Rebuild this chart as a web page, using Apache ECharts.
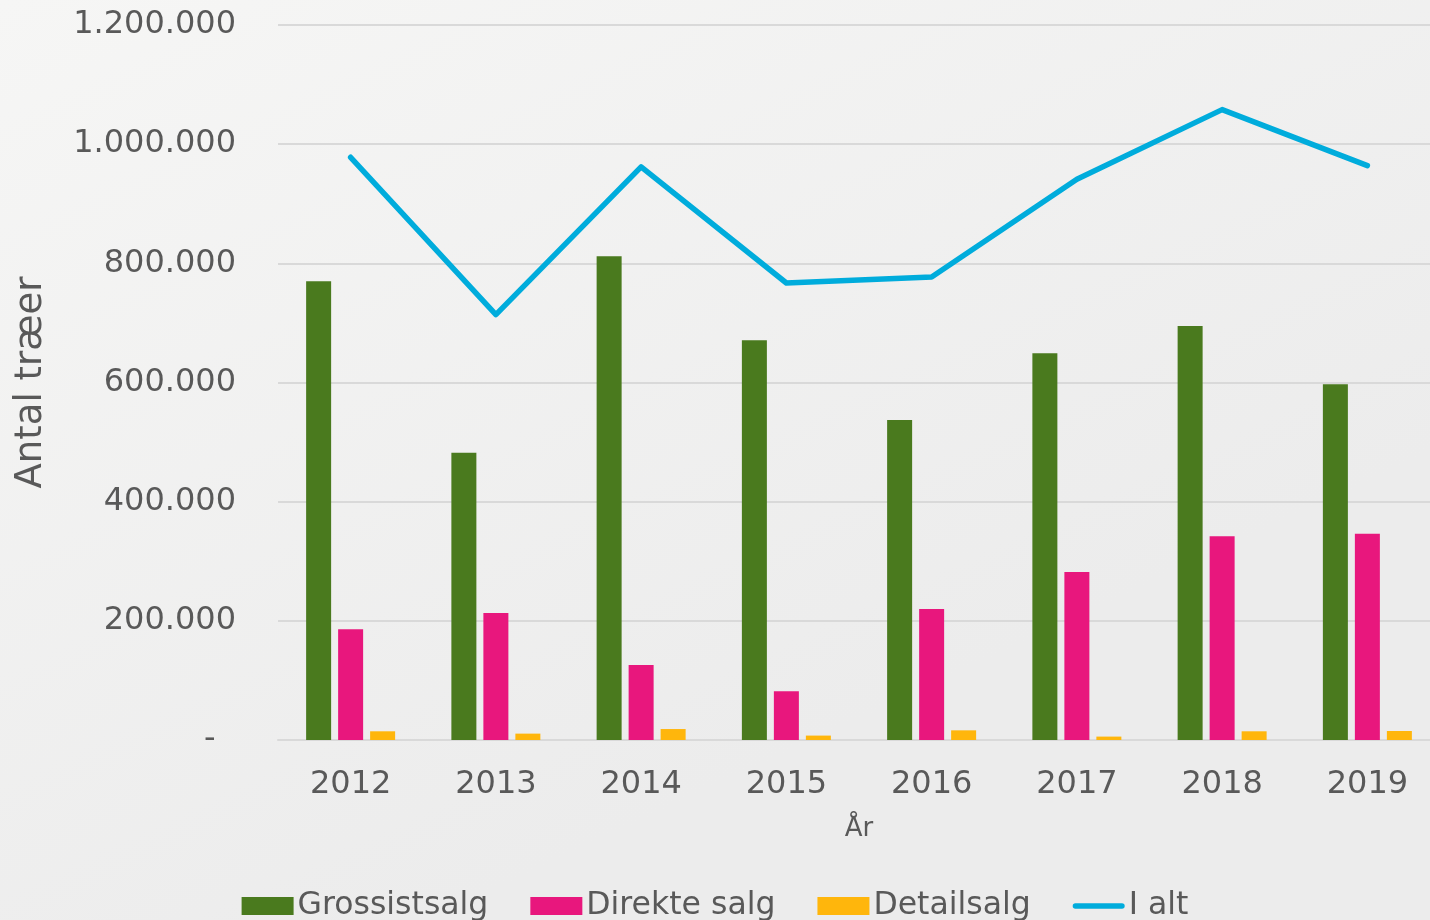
<!DOCTYPE html>
<html>
<head>
<meta charset="utf-8">
<script src="https://cdn.jsdelivr.net/npm/echarts@6/dist/echarts.min.js"></script>
<style>
  html, body { margin: 0; padding: 0; }
  #chart1 { width: 1430px; height: 920px; }
</style>
</head>
<body>
<div id="chart1"></div>
<script>
// data
var years = ['2012', '2013', '2014', '2015', '2016', '2017', '2018', '2019'];
var grossistsalg = [770000, 482000, 812000, 671000, 537000, 649000, 695000, 597000];
var direkteSalg = [186000, 213000, 126000, 82000, 220000, 282000, 342000, 346000];
var detailsalg = [14600, 10700, 18400, 7400, 16200, 5700, 14600, 15100];
var iAlt = [978000, 714000, 962000, 767000, 777000, 941000, 1058000, 964000];

var textColor = '#595959';
var font = 'DejaVu Sans';

var myChart = echarts.init(document.getElementById('chart1'));

function fmt(v) {
	if (v === 0) return '-  ';
	return String(v).replace(/\B(?=(\d{3})+(?!\d))/g, '.');
}

var option = {
	backgroundColor: {
		type: 'linear', x: 0, y: 0, x2: 0.3, y2: 1,
		colorStops: [
			{ offset: 0, color: '#f6f6f5' },
			{ offset: 1, color: '#ececec' }
		]
	},
	textStyle: { fontFamily: font, color: textColor },
	color: ['#4a7a1e', '#e8177d', '#ffb60c', '#00acdc'],
	grid: { left: 278, right: -10, top: 25, bottom: 180, containLabel: false, outerBoundsMode: 'none' },
	legend: {
		top: 885,
		left: 'center',
		itemWidth: 52,
		itemHeight: 18,
		itemGap: 42,
		textStyle: { fontFamily: font, fontSize: 31.5, color: textColor, padding: [0, 0, 0, -1] },
		data: [
			{ name: 'Grossistsalg', icon: 'rect' },
			{ name: 'Direkte salg', icon: 'rect' },
			{ name: 'Detailsalg', icon: 'rect' },
			{ name: 'I alt', icon: 'path://M3,0 L54,0 A3,3 0 0 1 54,6 L3,6 A3,3 0 0 1 3,0 Z' }
		]
	},
	xAxis: {
		type: 'category',
		data: years,
		name: 'År',
		nameLocation: 'middle',
		nameGap: 76,
		nameTextStyle: { fontFamily: font, fontSize: 26, color: textColor },
		axisLine: { lineStyle: { color: '#d9d9d9', width: 2 } },
		axisTick: { show: false },
		axisLabel: { fontFamily: font, fontSize: 32, color: textColor, margin: 29 }
	},
	yAxis: {
		type: 'value',
		min: 0,
		max: 1200000,
		interval: 200000,
		name: 'Antal træer',
		nameLocation: 'middle',
		nameGap: 228,
		nameTextStyle: { fontFamily: font, fontSize: 37, color: textColor },
		axisLine: { show: false },
		axisTick: { show: false },
		splitLine: { lineStyle: { color: '#d9d9d9', width: 2 } },
		axisLabel: { fontFamily: font, fontSize: 32, color: textColor, margin: 42, formatter: fmt }
	},
	series: [
		{ name: 'Grossistsalg', type: 'bar', barWidth: 25, barGap: '28%', data: grossistsalg },
		{ name: 'Direkte salg', type: 'bar', barWidth: 25, barGap: '28%', data: direkteSalg },
		{ name: 'Detailsalg', type: 'bar', barWidth: 25, barGap: '28%', data: detailsalg },
		{
			name: 'I alt', type: 'line', data: iAlt,
			symbol: 'none',
			lineStyle: { width: 5.5, color: '#00acdc', cap: 'round', join: 'round' },
			z: 5
		}
	]
};
myChart.setOption(option);
</script>
</body>
</html>
